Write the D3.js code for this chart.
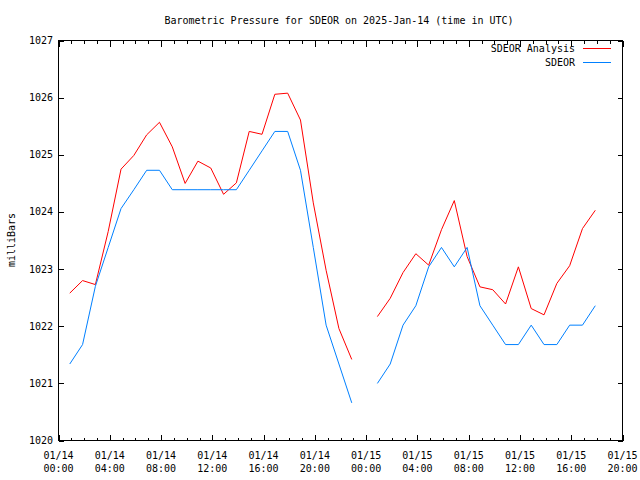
<!DOCTYPE html>
<html>
<head>
<meta charset="utf-8">
<script src="https://cdn.jsdelivr.net/npm/d3@7"></script>
<style>
  html, body { margin: 0; padding: 0; background: #fff; }
  svg { display: block; }
  text { font-family: "DejaVu Sans Mono", "Liberation Mono", monospace; font-size: 10px; fill: #000; }
</style>
</head>
<body>
<svg id="chart" width="640" height="480"></svg>
<script>
const title = "Barometric Pressure for SDEOR on 2025-Jan-14 (time in UTC)";
const yLabel = "milliBars";
const seriesNames = ["SDEOR Analysis", "SDEOR"];
const seriesColors = ["#ff0000", "#0080ff"];

const times = [
  "2025-01-14T00:55Z","2025-01-14T01:55Z","2025-01-14T02:55Z","2025-01-14T03:55Z",
  "2025-01-14T04:55Z","2025-01-14T05:55Z","2025-01-14T06:55Z","2025-01-14T07:55Z",
  "2025-01-14T08:55Z","2025-01-14T09:55Z","2025-01-14T10:55Z","2025-01-14T11:55Z",
  "2025-01-14T12:55Z","2025-01-14T13:55Z","2025-01-14T14:55Z","2025-01-14T15:55Z",
  "2025-01-14T16:55Z","2025-01-14T17:55Z","2025-01-14T18:55Z","2025-01-14T19:55Z",
  "2025-01-14T20:55Z","2025-01-14T21:55Z","2025-01-14T22:55Z","2025-01-14T23:55Z",
  "2025-01-15T00:55Z","2025-01-15T01:55Z","2025-01-15T02:55Z","2025-01-15T03:55Z",
  "2025-01-15T04:55Z","2025-01-15T05:55Z","2025-01-15T06:55Z","2025-01-15T07:55Z",
  "2025-01-15T08:55Z","2025-01-15T09:55Z","2025-01-15T10:55Z","2025-01-15T11:55Z",
  "2025-01-15T12:55Z","2025-01-15T13:55Z","2025-01-15T14:55Z","2025-01-15T15:55Z",
  "2025-01-15T16:55Z","2025-01-15T17:55Z"
];

const analysis = [
  1022.57, 1022.79, 1022.72, 1023.65, 1024.74, 1024.98, 1025.34, 1025.56,
  1025.13, 1024.49, 1024.88, 1024.76, 1024.30, 1024.50, 1025.40, 1025.35,
  1026.05, 1026.07, 1025.60, 1024.15, 1022.97, 1021.95, 1021.41, null,
  1022.16, 1022.48, 1022.93, 1023.26, 1023.06, 1023.68, 1024.19, 1023.21,
  1022.68, 1022.63, 1022.38, 1023.03, 1022.30, 1022.19, 1022.74, 1023.05,
  1023.70, 1024.02
];

const observed = [
  1021.33, 1021.67, 1022.69, 1023.37, 1024.05, 1024.38, 1024.72, 1024.72,
  1024.38, 1024.38, 1024.38, 1024.38, 1024.38, 1024.38, 1024.72, 1025.06,
  1025.40, 1025.40, 1024.72, 1023.37, 1022.01, 1021.33, 1020.65, null,
  1020.99, 1021.33, 1022.01, 1022.35, 1023.03, 1023.37, 1023.03, 1023.37,
  1022.35, 1022.01, 1021.67, 1021.67, 1022.01, 1021.67, 1021.67, 1022.01,
  1022.01, 1022.35
];

const xDomain = ["2025-01-14T00:00Z", "2025-01-15T20:00Z"];
const yDomain = [1020, 1027];
const yTicks = [1020, 1021, 1022, 1023, 1024, 1025, 1026, 1027];

const svg = d3.select("#chart");
const pL = 58, pR = 622, pT = 40, pB = 440;

const x = d3.scaleUtc().domain(xDomain.map(d => new Date(d))).range([pL, pR]);
const y = d3.scaleLinear().domain(yDomain).range([pB, pT]);

const dates = times.map(t => new Date(t));

// Plot frame
svg.append("rect")
  .attr("x", pL + 0.5).attr("y", pT + 0.5)
  .attr("width", pR - pL).attr("height", pB - pT)
  .attr("fill", "none").attr("stroke", "#000").attr("stroke-width", 1)
  .attr("shape-rendering", "crispEdges");

const majorX = x.ticks(d3.utcHour.every(4));
const minorX = x.ticks(d3.utcHour.every(1));
const isMajor = d => majorX.some(m => +m === +d);

const fmtDate = d3.utcFormat("%m/%d");
const fmtTime = d3.utcFormat("%H:%M");

// Bottom axis (ticks inward)
const bottomAxis = d3.axisBottom(x).tickValues(minorX)
  .tickSizeInner(-3).tickSizeOuter(0).tickFormat("");
const gB = svg.append("g").attr("transform", `translate(0.5,${pB + 0.5})`).call(bottomAxis);
gB.select(".domain").remove();
gB.selectAll(".tick line").attr("y2", d => isMajor(d) ? -6 : -3);

// Top axis mirrored
const topAxis = d3.axisTop(x).tickValues(minorX)
  .tickSizeInner(-3).tickSizeOuter(0).tickFormat("");
const gT = svg.append("g").attr("transform", `translate(0.5,${pT + 0.5})`).call(topAxis);
gT.select(".domain").remove();
gT.selectAll(".tick line").attr("y2", d => isMajor(d) ? 6 : 3);

// X tick labels (two lines)
const xl = svg.append("g");
majorX.forEach(d => {
  const t = xl.append("text").attr("text-anchor", "middle");
  t.append("tspan").attr("x", x(d) + 0.5).attr("y", 459).text(fmtDate(d));
  t.append("tspan").attr("x", x(d) + 0.5).attr("y", 472).text(fmtTime(d));
});

// Left and right axes
const leftAxis = d3.axisLeft(y).tickValues(yTicks).tickSizeInner(-5).tickSizeOuter(0).tickFormat("");
const gL = svg.append("g").attr("transform", `translate(${pL + 0.5},0.5)`).call(leftAxis);
gL.select(".domain").remove();
const rightAxis = d3.axisRight(y).tickValues(yTicks).tickSizeInner(-5).tickSizeOuter(0).tickFormat("");
const gR = svg.append("g").attr("transform", `translate(${pR + 0.5},0.5)`).call(rightAxis);
gR.select(".domain").remove();
svg.selectAll("g .tick line").attr("stroke", "#000").attr("shape-rendering", "crispEdges");

svg.append("g").selectAll("text").data(yTicks).join("text")
  .attr("x", 53).attr("y", d => y(d) + 4)
  .attr("text-anchor", "end").text(d => d);

// Title
svg.append("text").attr("x", 339).attr("y", 24).attr("text-anchor", "middle").text(title);

// Y label
svg.append("text").attr("transform", "translate(15,240) rotate(-90)")
  .attr("text-anchor", "middle").text(yLabel);

// Lines
const line = d3.line()
  .defined(d => d[1] !== null)
  .x(d => x(d[0]))
  .y(d => y(d[1]));

[analysis, observed].forEach((vals, i) => {
  svg.append("path")
    .datum(dates.map((d, j) => [d, vals[j]]))
    .attr("fill", "none")
    .attr("stroke", seriesColors[i])
    .attr("stroke-width", 1)
    .attr("d", line);
});

// Legend
seriesNames.forEach((name, i) => {
  const ly = 48 + i * 14;
  svg.append("text").attr("x", 575).attr("y", ly + 4).attr("text-anchor", "end").text(name);
  svg.append("line").attr("x1", 583).attr("x2", 611).attr("y1", ly + 0.5).attr("y2", ly + 0.5)
    .attr("stroke", seriesColors[i]).attr("stroke-width", 1).attr("shape-rendering", "crispEdges");
});
</script>
</body>
</html>
